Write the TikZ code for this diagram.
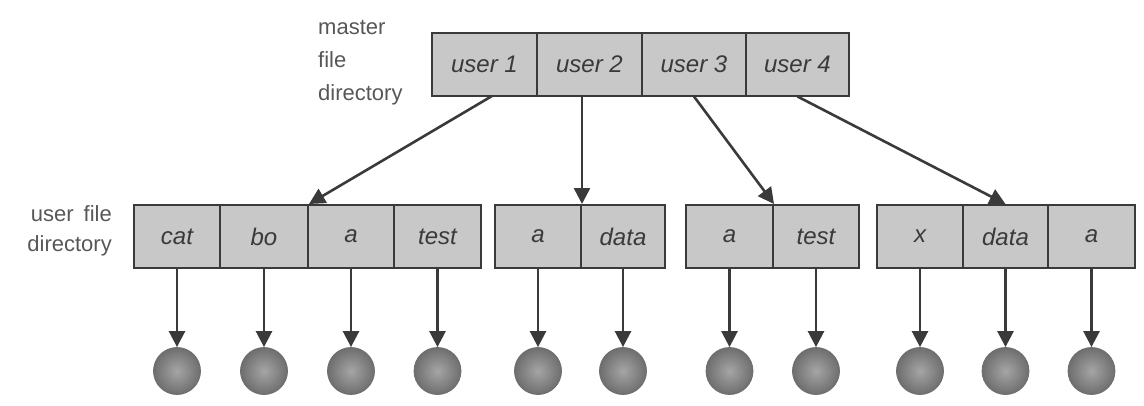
\documentclass[tikz,border=0pt]{standalone}
\usepackage{fontspec}
\setmainfont{Liberation Sans}
\usetikzlibrary{arrows.meta}
\definecolor{ink}{RGB}{58,58,58}
\definecolor{cellfill}{RGB}{200,200,200}
\definecolor{ballin}{RGB}{165,165,165}
\definecolor{ballout}{RGB}{110,110,110}
\tikzset{
  cell/.style={draw=ink, line width=2pt, fill=cellfill, inner sep=0pt,
    minimum height=63pt, font=\fontsize{24}{24}\selectfont\itshape, text=ink},
  file/.style={circle, inner sep=0pt, minimum size=47pt, shading=radial,
    inner color=ballin, outer color=ballout, draw=ballout, line width=0.8pt},
  link/.style={draw=ink, line width=2.6pt, -{Triangle[width=16pt,length=16pt]}},
  label/.style={font=\fontsize{22}{33}\selectfont, text=ink!85, inner sep=0pt}
}
\begin{document}
\begin{tikzpicture}[x=1pt, y=-1pt]
\useasboundingbox (0,0) rectangle (1144,405);

% master file directory
\node[label, anchor=west, align=left] (mlabel) at (318,63) {master\\file\\directory};
\node[cell, minimum width=105pt] (u1) at (484.5,64) {user 1};
\node[cell, minimum width=105pt] (u2) at (589.5,64) {user 2};
\node[cell, minimum width=104pt] (u3) at (694,64) {user 3};
\node[cell, minimum width=103pt] (u4) at (797.5,64) {user 4};

% user file directories
\node[label, anchor=east, align=right, font=\fontsize{22}{30}\selectfont] (ulabel) at (112,231) {user\hspace{10pt}file\\directory};

\node[cell, minimum width=86pt] (c1) at (177,236.5) {cat};
\node[cell, minimum width=88pt] (c2) at (264,236.5) {bo};
\node[cell, minimum width=86pt] (c3) at (351,236.5) {a};
\node[cell, minimum width=87pt] (c4) at (437.5,236.5) {test};

\node[cell, minimum width=86pt] (d1) at (538,236.5) {a};
\node[cell, minimum width=84pt] (d2) at (623,236.5) {data};

\node[cell, minimum width=87pt] (e1) at (729.5,236.5) {a};
\node[cell, minimum width=86pt] (e2) at (816,236.5) {test};

\node[cell, minimum width=86pt] (f1) at (920,236.5) {x};
\node[cell, minimum width=85pt] (f2) at (1005.5,236.5) {data};
\node[cell, minimum width=87pt] (f3) at (1091.5,236.5) {a};

% files
\foreach \n in {c1,c2,c3,c4,d1,d2,e1,e2,f1,f2,f3} {
  \path (\n.center) ++(0,134.5) node[file] (\n-file) {};
  \draw[link] (\n.south) -- (\n-file.north);
}

% master entries to user directories
\coordinate (u1start) at (492,96);
\draw[link] (u1start) -- (c2.north east);
\draw[link] (u2.south -| d1.north east) -- (d1.north east);
\draw[link] (u3.south) -- (e1.north east);
\draw[link] (u4.south) -- (f2.north);
\end{tikzpicture}
\end{document}
